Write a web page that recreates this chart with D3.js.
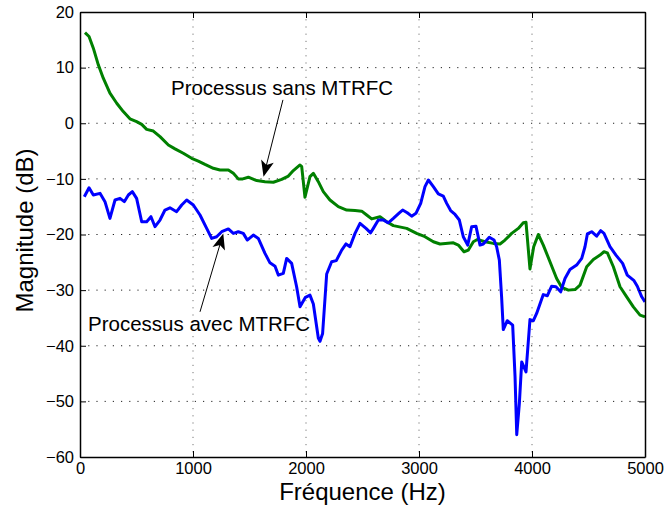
<!DOCTYPE html>
<html><head><meta charset="utf-8">
<script src="https://cdn.jsdelivr.net/npm/d3@7"></script>
<style>
html,body{margin:0;padding:0;background:#fff;}
svg{display:block;font-family:"Liberation Sans",Arial,sans-serif;}
</style></head>
<body><svg id="c" width="664" height="506"></svg>
<script>
// ---- data ----
const xTicks = [0, 1000, 2000, 3000, 4000, 5000];
const yTicks = [20, 10, 0, -10, -20, -30, -40, -50, -60];

const freqSans = [44,80,118,162,206,265,325,383,442,501,546,590,649,708,782,841,914,988,1047,1106,1180,1239,1313,1357,1401,1440,1490,1563,1637,1711,1785,1844,1888,1947,1962,1991,2035,2065,2109,2153,2212,2286,2360,2434,2493,2537,2581,2655,2714,2773,2891,2979,3053,3127,3186,3304,3348,3398,3437,3481,3516,3584,3658,3717,3761,3820,3879,3923,3947,3982,4015,4056,4100,4159,4218,4263,4322,4381,4425,4484,4543,4602,4637,4667,4720,4779,4838,4897,4956,5000];
const dbSans = [16.3,15.6,13.5,10.5,8.1,5.4,3.6,2.1,0.8,0.3,-0.2,-1.1,-1.4,-2.4,-3.9,-4.6,-5.4,-6.3,-6.8,-7.4,-8.1,-8.4,-8.4,-9.0,-10.0,-10.0,-9.7,-10.3,-10.5,-10.6,-10.1,-9.5,-8.5,-7.5,-7.8,-13.3,-9.6,-9.0,-10.5,-12.3,-13.8,-15.0,-15.6,-15.7,-15.8,-16.5,-17.2,-16.8,-17.7,-18.4,-18.9,-19.8,-20.4,-21.3,-21.7,-21.5,-21.9,-23.1,-22.8,-21.3,-20.9,-21.3,-21.6,-21.7,-21.0,-19.8,-18.9,-17.9,-17.8,-26.2,-22.2,-20.0,-21.9,-24.9,-27.9,-29.5,-30.0,-29.9,-29.1,-25.8,-24.5,-23.7,-23.1,-23.3,-25.8,-29.4,-31.2,-33.0,-34.5,-34.8];

const freqAvec = [38,80,118,177,221,265,310,354,392,428,463,501,546,590,628,664,708,752,796,855,900,944,1003,1062,1121,1165,1209,1254,1313,1357,1401,1445,1480,1534,1578,1637,1681,1726,1755,1799,1829,1873,1917,1947,1995,2035,2065,2109,2124,2147,2183,2227,2268,2316,2354,2389,2434,2478,2531,2572,2596,2640,2684,2728,2773,2826,2855,2896,2935,2973,3015,3053,3083,3127,3171,3215,3245,3280,3319,3357,3392,3431,3466,3504,3540,3569,3622,3664,3687,3711,3731,3746,3781,3829,3850,3865,3888,3909,3947,3982,4012,4041,4100,4136,4174,4212,4254,4292,4336,4395,4440,4469,4490,4528,4572,4608,4637,4690,4743,4802,4843,4903,4932,4971,5000];
const dbAvec = [-13.2,-11.6,-12.9,-12.6,-14.1,-17.1,-13.8,-13.5,-14.1,-12.9,-12.3,-13.5,-17.7,-17.7,-16.8,-18.6,-17.4,-15.6,-15.2,-15.9,-14.7,-13.8,-14.7,-16.5,-18.9,-20.7,-20.4,-19.5,-19.0,-19.8,-19.5,-19.8,-21.0,-20.1,-20.7,-23.4,-25.1,-25.7,-27.3,-27.0,-24.3,-25.2,-29.4,-33.0,-31.3,-30.9,-32.5,-38.6,-39.2,-37.8,-27.1,-24.9,-24.7,-22.8,-21.7,-22.2,-19.8,-18.0,-18.9,-19.7,-18.9,-17.4,-17.4,-17.9,-17.1,-16.1,-15.6,-16.1,-16.7,-16.2,-14.4,-11.4,-10.2,-11.4,-12.7,-13.1,-14.4,-15.7,-16.4,-17.4,-20.4,-21.9,-18.6,-18.5,-21.9,-21.7,-20.5,-21.0,-22.2,-24.6,-31.2,-37.1,-35.5,-36.3,-45.6,-56.0,-50.4,-42.9,-44.7,-35.3,-35.5,-34.2,-30.8,-31.0,-29.3,-29.4,-30.3,-27.9,-26.3,-25.5,-24.3,-22.2,-19.9,-19.5,-20.3,-19.3,-19.8,-22.2,-23.7,-25.2,-27.3,-28.3,-29.3,-31.2,-32.1];

const annoLabels = ["Processus sans MTRFC", "Processus avec MTRFC"];
const annoTipFreq = [1624, 1268];
const annoTipDb = [-9.6, -19.8];
const annoTailFreq = [1796, 1062];
const annoTailDb = [4.2, -33.9];
const annoTextFreq = [805, 71];
const annoTextDb = [5.1, -37.4];

const xLabel = "Fréquence (Hz)";
const yLabel = "Magnitude (dB)";

// ---- layout ----
const L = 80, R = 645, T = 12, B = 457;
const svg = d3.select("#c");
const x = d3.scaleLinear().domain([0, 5000]).range([L, R]);
const y = d3.scaleLinear().domain([-60, 20]).range([B, T]);

// grid
const grid = svg.append("g");
grid.selectAll("line.gx").data(xTicks.slice(1, -1)).join("line")
  .attr("x1", d => x(d)).attr("x2", d => x(d)).attr("y1", T).attr("y2", B)
  .attr("stroke", "#777").attr("stroke-width", 1).attr("stroke-dasharray", "1.2,6");
grid.selectAll("line.gy").data(yTicks.slice(1, -1)).join("line")
  .attr("x1", L).attr("x2", R).attr("y1", d => y(d)).attr("y2", d => y(d))
  .attr("stroke", "#222").attr("stroke-width", 1).attr("stroke-dasharray", "1.2,7");

// curves
svg.append("defs").append("clipPath").attr("id", "clip")
  .append("rect").attr("x", L).attr("y", T).attr("width", R - L).attr("height", B - T);
const line = d3.line().x(d => x(d[0])).y(d => y(d[1]));
const sans = freqSans.map((f, i) => [f, dbSans[i]]);
const avec = freqAvec.map((f, i) => [f, dbAvec[i]]);
const curves = svg.append("g").attr("clip-path", "url(#clip)");
curves.append("path").datum(sans).attr("d", line).attr("fill", "none")
  .attr("stroke", "#008000").attr("stroke-width", 3).attr("stroke-linejoin", "round");
curves.append("path").datum(avec).attr("d", line).attr("fill", "none")
  .attr("stroke", "#0000ff").attr("stroke-width", 3).attr("stroke-linejoin", "round");

// axes (box with inward ticks)
const tl = 6;
const axB = svg.append("g").attr("transform", `translate(0,${B})`)
  .call(d3.axisBottom(x).tickValues(xTicks).tickSizeInner(-tl).tickSizeOuter(0).tickPadding(6).tickFormat(d3.format("d")));
const axT = svg.append("g").attr("transform", `translate(0,${T})`)
  .call(d3.axisTop(x).tickValues(xTicks).tickSizeInner(-tl).tickSizeOuter(0).tickFormat(""));
const axL = svg.append("g").attr("transform", `translate(${L},0)`)
  .call(d3.axisLeft(y).tickValues(yTicks).tickSizeInner(-tl).tickSizeOuter(0).tickPadding(6)
    .tickFormat(d => d < 0 ? "\u2212" + Math.abs(d) : String(d)));
const axR = svg.append("g").attr("transform", `translate(${R},0)`)
  .call(d3.axisRight(y).tickValues(yTicks).tickSizeInner(-tl).tickSizeOuter(0).tickFormat(""));
[axB, axT, axL, axR].forEach(a => {
  a.select(".domain").attr("stroke", "#000").attr("stroke-width", 1.5);
  a.selectAll(".tick line").attr("stroke", "#000").attr("stroke-width", 1);
  a.selectAll(".tick text").attr("fill", "#000").attr("font-size", 16.5)
    .attr("font-family", "Liberation Sans, Arial, sans-serif");
});
axB.selectAll(".tick text").attr("dy", "0.71em").attr("y", 5);

// axis labels
svg.append("text").attr("x", (L + R) / 2).attr("y", 500).attr("text-anchor", "middle")
  .attr("font-size", 24).attr("fill", "#000").text(xLabel);
svg.append("text").attr("transform", `translate(33,${(T + B) / 2 - 4}) rotate(-90)`)
  .attr("text-anchor", "middle").attr("font-size", 24).attr("fill", "#000").text(yLabel);

// annotations
const ann = svg.append("g");
annoLabels.forEach((lab, i) => {
  ann.append("text").attr("x", x(annoTextFreq[i])).attr("y", y(annoTextDb[i]))
    .attr("font-size", 20.5).attr("fill", "#000").text(lab);
  const x1 = x(annoTailFreq[i]), y1 = y(annoTailDb[i]);
  const x2 = x(annoTipFreq[i]), y2 = y(annoTipDb[i]);
  const ang = Math.atan2(y2 - y1, x2 - x1);
  const hl = 16, hw = 6.5, back = 12;
  const ux = Math.cos(ang), uy = Math.sin(ang), px = -uy, py = ux;
  const bx = x2 - ux * hl, by = y2 - uy * hl;
  const nx = x2 - ux * back, ny = y2 - uy * back;
  ann.append("line").attr("x1", x1).attr("y1", y1).attr("x2", nx).attr("y2", ny)
    .attr("stroke", "#000").attr("stroke-width", 1);
  ann.append("path")
    .attr("d", `M${x2},${y2}L${bx + px * hw},${by + py * hw}L${nx},${ny}L${bx - px * hw},${by - py * hw}Z`)
    .attr("fill", "#000");
});
</script></body></html>
